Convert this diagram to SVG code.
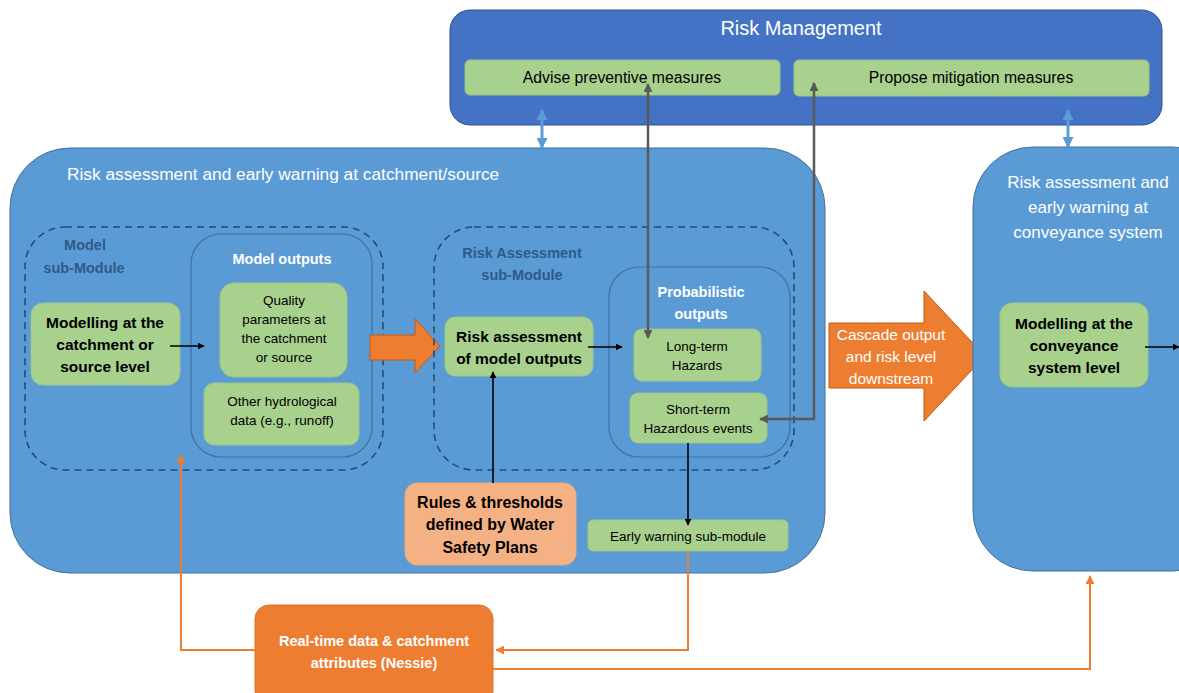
<svg xmlns="http://www.w3.org/2000/svg" width="1179" height="693" viewBox="0 0 1179 693">
<style>
text{font-family:"Liberation Sans",Arial,sans-serif;text-anchor:middle}
.big{fill:#5B9BD5;stroke:#41719C;stroke-width:1}
.rm{fill:#4472C4;stroke:#2F528F;stroke-width:1}
.g{fill:#A9D18E;stroke:#9DC583;stroke-width:1}
.dash{fill:none;stroke:#1F4E79;stroke-width:1.6;stroke-dasharray:7 5}
.inner{fill:none;stroke:#41719C;stroke-width:1.2}
.wt{fill:#fff}
.bt{fill:#000}
.b{font-weight:bold}
.lab{fill:#2E5A88;font-weight:bold;font-size:14.5px}
.blk{stroke:#000;stroke-width:1.6;fill:none}
.gry{stroke:#595959;stroke-width:2.5;fill:none}
.org{stroke:#ED7D31;stroke-width:2;fill:none}
.lb{stroke:#5B9BD5;stroke-width:3;fill:none}
</style>
<defs>
<marker id="ab" viewBox="0 0 10 10" refX="9" refY="5" markerWidth="7" markerHeight="7" markerUnits="userSpaceOnUse" orient="auto"><path d="M0,0L10,5L0,10z" fill="#000"/></marker>
<marker id="ag" viewBox="0 0 10 10" refX="9" refY="5" markerWidth="9" markerHeight="9" markerUnits="userSpaceOnUse" orient="auto"><path d="M0,0L10,5L0,10z" fill="#595959"/></marker>
<marker id="ao" viewBox="0 0 10 10" refX="9" refY="5" markerWidth="9" markerHeight="9" markerUnits="userSpaceOnUse" orient="auto"><path d="M0,0L10,5L0,10z" fill="#ED7D31"/></marker>
<marker id="al" viewBox="0 0 10 10" refX="9" refY="5" markerWidth="11" markerHeight="11" markerUnits="userSpaceOnUse" orient="auto-start-reverse"><path d="M0,0L10,5L0,10z" fill="#5B9BD5"/></marker>
</defs>

<g id="risk-management">
<rect class="rm" x="450" y="10" width="712" height="115" rx="20"/>
<text class="wt" x="801" y="35" font-size="20">Risk Management</text>
</g>
<g id="advise">
<rect class="g" x="465" y="60" width="315" height="35" rx="5"/>
<text class="bt" x="622" y="83" font-size="15.8">Advise preventive measures</text>
</g>
<g id="propose">
<rect class="g" x="794" y="60" width="355" height="36" rx="5"/>
<text class="bt" x="971" y="83" font-size="15.8">Propose mitigation measures</text>
</g>

<g id="catchment">
<rect class="big" x="10" y="148" width="815" height="425" rx="60"/>
<text class="wt" x="67" y="180" font-size="17.3" style="text-anchor:start">Risk assessment and early warning at catchment/source</text>
</g>
<g id="model-submodule">
<rect class="dash" x="25" y="227" width="358" height="243" rx="40"/>
<text class="lab" x="85" y="250">Model</text>
<text class="lab" x="84" y="273">sub-Module</text>
</g>
<g id="model-outputs">
<rect class="inner" x="191" y="234" width="181" height="223" rx="30"/>
<text class="wt b" x="282" y="264" font-size="14.5">Model outputs</text>
</g>
<g id="modelling-catchment">
<rect class="g" x="31" y="303" width="149" height="82" rx="12"/>
<text class="bt b" font-size="15.5"><tspan x="105" y="328">Modelling at the</tspan><tspan x="105" y="350">catchment or</tspan><tspan x="105" y="372">source level</tspan></text>
</g>
<g id="quality">
<rect class="g" x="220" y="283" width="127" height="94" rx="14"/>
<text class="bt" font-size="13.5"><tspan x="284" y="305">Quality</tspan><tspan x="284" y="324">parameters at</tspan><tspan x="284" y="343">the catchment</tspan><tspan x="284" y="362">or source</tspan></text>
</g>
<g id="hydro">
<rect class="g" x="204" y="383" width="155" height="62" rx="10"/>
<text class="bt" font-size="13.5"><tspan x="282" y="406">Other hydrological</tspan><tspan x="282" y="425">data (e.g., runoff)</tspan></text>
</g>
<g id="model-to-risk-arrow">
<path d="M370,335H415V319L440,346L415,373V360H370Z" fill="#ED7D31" stroke="#C55A11" stroke-width="1"/>
</g>
<g id="risk-submodule">
<rect class="dash" x="434" y="227" width="360" height="243" rx="40"/>
<text class="lab" x="522" y="258">Risk Assessment</text>
<text class="lab" x="522" y="280">sub-Module</text>
</g>
<g id="probabilistic">
<rect class="inner" x="609" y="267" width="181" height="190" rx="30"/>
<text class="wt b" font-size="14.5"><tspan x="701" y="297">Probabilistic</tspan><tspan x="701" y="319">outputs</tspan></text>
</g>
<g id="risk-assessment-outputs">
<rect class="g" x="445" y="317" width="148" height="59" rx="10"/>
<text class="bt b" font-size="15.5"><tspan x="519" y="342">Risk assessment</tspan><tspan x="519" y="364">of model outputs</tspan></text>
</g>
<g id="long-term">
<rect class="g" x="634" y="329" width="127" height="52" rx="8"/>
<text class="bt" font-size="13.5"><tspan x="697" y="351">Long-term</tspan><tspan x="697" y="370">Hazards</tspan></text>
</g>
<g id="short-term">
<rect class="g" x="630" y="393" width="137" height="50" rx="8"/>
<text class="bt" font-size="13.5"><tspan x="698" y="414">Short-term</tspan><tspan x="698" y="433">Hazardous events</tspan></text>
</g>
<g id="rules">
<rect x="405" y="483" width="171" height="82" rx="12" fill="#F4B183" stroke="#F0A878" stroke-width="1"/>
<text class="bt b" font-size="16"><tspan x="490" y="508">Rules &amp; thresholds</tspan><tspan x="490" y="530">defined by Water</tspan><tspan x="490" y="553">Safety Plans</tspan></text>
</g>
<g id="early-warning">
<rect class="g" x="588" y="520" width="200" height="31" rx="5"/>
<text class="bt" x="688" y="541" font-size="13.5">Early warning sub-module</text>
</g>

<g id="cascade">
<path d="M829,323H924V291L985,356L924,421V388H829Z" fill="#ED7D31" stroke="#C55A11" stroke-width="1"/>
<text class="wt" font-size="15.5"><tspan x="891" y="340">Cascade output</tspan><tspan x="891" y="362">and risk level</tspan><tspan x="891" y="384">downstream</tspan></text>
</g>

<g id="conveyance">
<rect class="big" x="973" y="147" width="260" height="424" rx="60"/>
<text class="wt" font-size="17"><tspan x="1088" y="188">Risk assessment and</tspan><tspan x="1088" y="213">early warning at</tspan><tspan x="1088" y="238">conveyance system</tspan></text>
</g>
<g id="modelling-conveyance">
<rect class="g" x="1000" y="303" width="148" height="84" rx="12"/>
<text class="bt b" font-size="15.5"><tspan x="1074" y="329">Modelling at the</tspan><tspan x="1074" y="351">conveyance</tspan><tspan x="1074" y="373">system level</tspan></text>
</g>

<g id="realtime">
<rect x="255" y="605" width="238" height="100" rx="14" fill="#ED7D31" stroke="#E07025" stroke-width="1"/>
<text class="wt b" font-size="14.5"><tspan x="374" y="646">Real-time data &amp; catchment</tspan><tspan x="374" y="668">attributes (Nessie)</tspan></text>
</g>

<g id="connectors">
<path class="lb" d="M542,148V110" marker-start="url(#al)" marker-end="url(#al)"/>
<path class="lb" d="M1068,147V110" marker-start="url(#al)" marker-end="url(#al)"/>
<path class="blk" d="M170,346H204" marker-end="url(#ab)"/>
<path class="blk" d="M588,347H622" marker-end="url(#ab)"/>
<path class="blk" d="M1145,347H1179" marker-end="url(#ab)"/>
<path class="blk" d="M493,483V372" marker-end="url(#ab)"/>
<path class="blk" d="M688,443V525" marker-end="url(#ab)"/>
<path class="gry" d="M648,210V84" marker-end="url(#ag)"/>
<path class="gry" d="M648,210V338" marker-end="url(#ag)"/>
<path class="gry" d="M814,250V83" marker-end="url(#ag)"/>
<path class="gry" d="M814,250V419H760" marker-end="url(#ag)"/>
<path class="org" d="M688,551V650H496" marker-end="url(#ao)"/>
<path class="org" d="M255,650H181V455" marker-end="url(#ao)"/>
<path class="org" d="M493,669H1090V576" marker-end="url(#ao)"/>
</g>
</svg>
